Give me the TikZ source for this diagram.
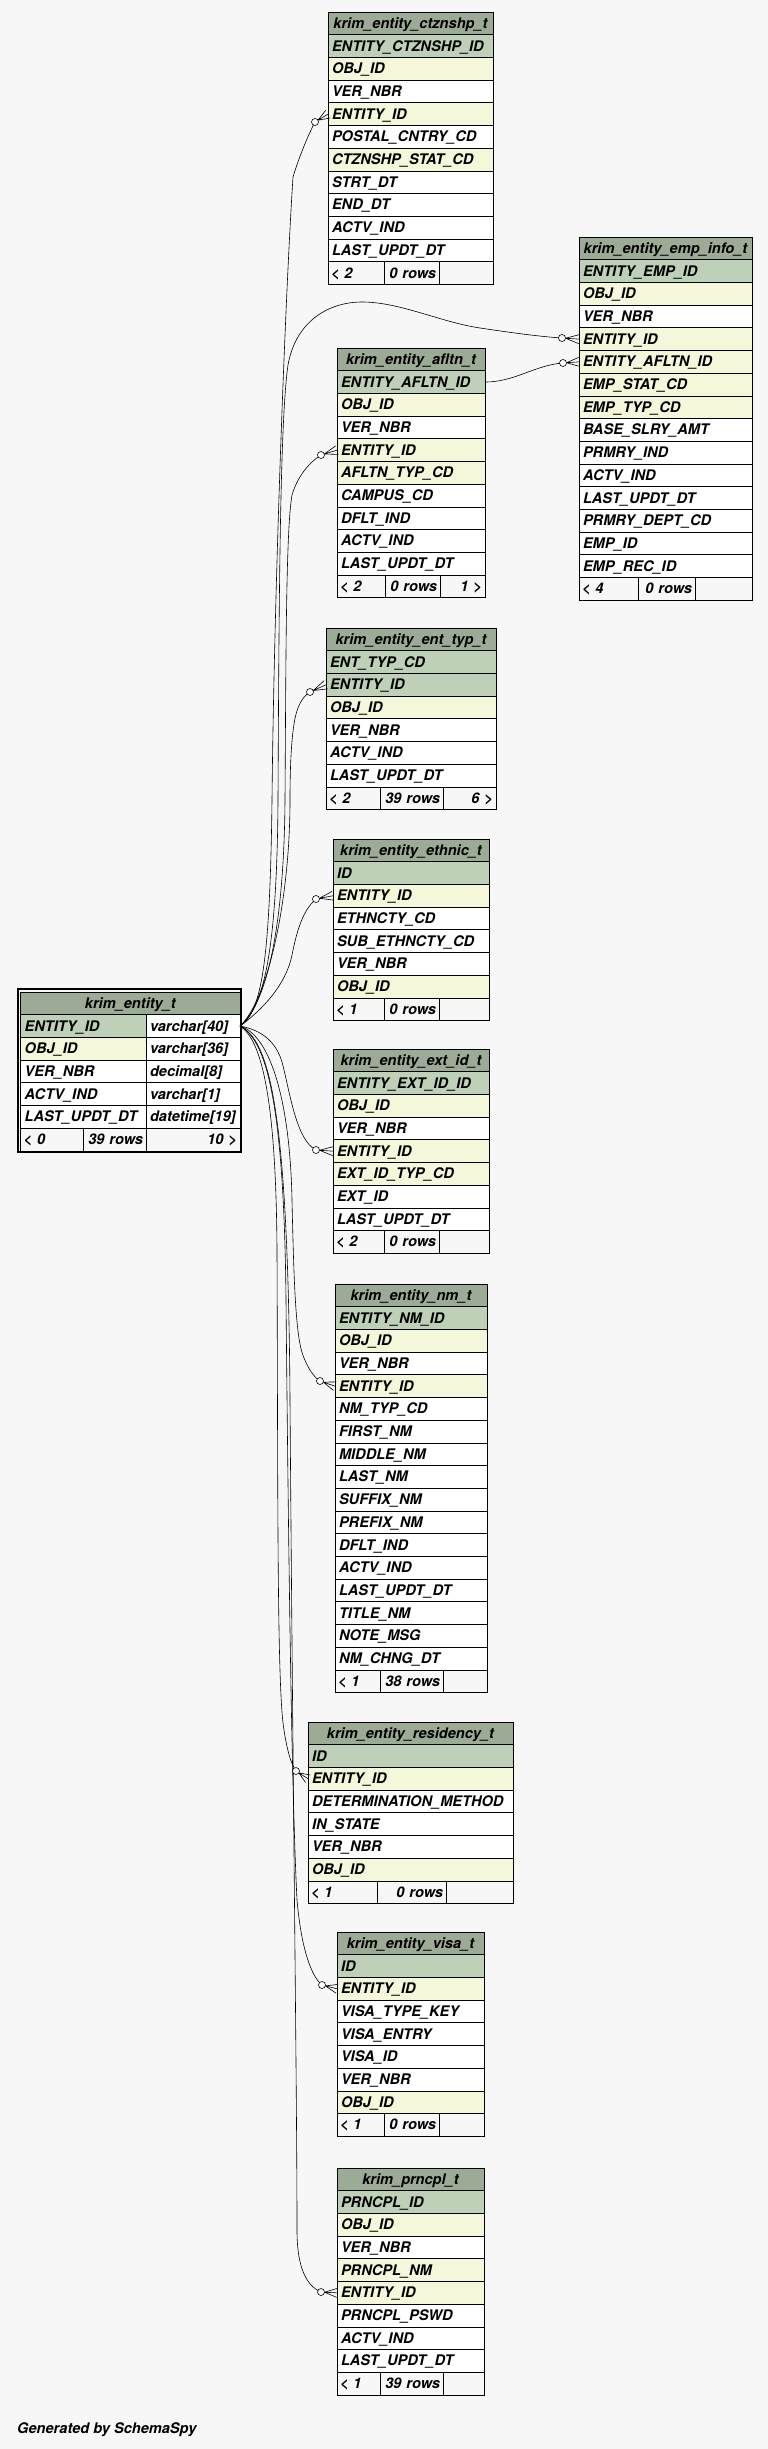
\documentclass[tikz,border=0pt]{standalone}
\usepackage{fontspec}
\setmainfont{TeX Gyre Heros}
\usetikzlibrary{calc}

\definecolor{bgc}{HTML}{F7F7F7}
\definecolor{headc}{HTML}{9BAB96}
\definecolor{pkc}{HTML}{BED1B8}
\definecolor{fkc}{HTML}{F4F7DA}

\def\rowh{22.7}

\tikzset{
  cell/.style={draw=black, line width=0.8pt, anchor=north west, outer sep=0pt,
    inner xsep=4pt, inner ysep=0pt, minimum height=\rowh pt,
    text height=12pt, text depth=2pt, align=left,
    font=\fontsize{14.6pt}{16pt}\selectfont\bfseries\itshape},
  headrow/.style={cell, fill=headc, align=center},
  colrow/.style={cell},
  footcell/.style={cell, fill=bgc, inner xsep=3pt},
  relline/.style={black, line width=0.6pt},
  crowdot/.style={circle, draw=black, fill=white, line width=0.6pt, inner sep=0pt, minimum size=7pt}
}

% table: name, x, y, width, title, rows
\newcommand{\dbtable}[6]{%
  \pgfmathsetmacro\tblw{#4-8}%
  \node[headrow, minimum width=#4pt, text width=\tblw pt] (#1-0) at (#2,#3) {#5};
  \foreach \colr/\txt [count=\i] in {#6}
    \node[colrow, fill=\colr, minimum width=#4pt, text width=\tblw pt] (#1-\i) at (#2,{#3+\i*\rowh}) {\txt};
}

% footer: name, last row, x0, x1, x2, x3, left, mid, right
\newcommand{\dbfoot}[9]{%
  \pgfmathsetmacro\fwa{#4-#3}\pgfmathsetmacro\fwb{#5-#4}\pgfmathsetmacro\fwc{#6-#5}%
  \pgfmathsetmacro\fta{\fwa-6}\pgfmathsetmacro\ftb{\fwb-6}\pgfmathsetmacro\ftc{\fwc-6}%
  \node[footcell, minimum width=\fwa pt, text width=\fta pt] (#1-fl) at (#3,0 |- #1-#2.south) {#7};
  \node[footcell, minimum width=\fwb pt, text width=\ftb pt, align=right] (#1-fm) at (#4,0 |- #1-#2.south) {#8};
  \node[footcell, minimum width=\fwc pt, text width=\ftc pt, align=right] (#1-fr) at (#5,0 |- #1-#2.south) {#9};
}

% circle + crow's foot at a child row
\newcommand{\crowfoot}[2]{%
  \draw[relline] ($(#1)!3.5pt!(#2.west)$) coordinate (#1-ap) -- (#2.west)
    (#1-ap) -- ($(#2.west)!4.5pt!90:(#1-ap)$)
    (#1-ap) -- ($(#2.west)!4.5pt!-90:(#1-ap)$);
  \node[crowdot] (#1-dot) at (#1) {};
}

\begin{document}
\begin{tikzpicture}[x=1pt, y=-1pt]
\fill[bgc] (0,0) rectangle (768,2449);
\useasboundingbox (0,0) rectangle (768,2449);

% main table
\node[headrow, minimum width=219.3pt, text width=211.3pt] (entity-0) at (20.7,992) {krim\_entity\_t};
\foreach \colr/\txt/\typ [count=\i] in {pkc/ENTITY\_ID/varchar[40], fkc/OBJ\_ID/varchar[36],
    white/VER\_NBR/decimal[8], white/ACTV\_IND/varchar[1], white/LAST\_UPDT\_DT/datetime[19]} {
  \node[colrow, fill=\colr, minimum width=125.3pt, text width=117.3pt] (entity-\i) at (20.7,{992+\i*\rowh}) {\txt};
  \node[colrow, fill=white, minimum width=94pt, text width=86pt] (entity-t\i) at (146,{992+\i*\rowh}) {\typ};
}
\dbfoot{entity}{5}{20.7}{83}{146}{240}{< 0}{39 rows}{10 >}
\draw[line width=2pt] (18.3,989.3) rectangle (241.3,1152.3);

\dbtable{ctz}{328}{12}{165}{krim\_entity\_ctznshp\_t}{pkc/ENTITY\_CTZNSHP\_ID, fkc/OBJ\_ID, white/VER\_NBR,
  fkc/ENTITY\_ID, white/POSTAL\_CNTRY\_CD, fkc/CTZNSHP\_STAT\_CD, white/STRT\_DT, white/END\_DT,
  white/ACTV\_IND, white/LAST\_UPDT\_DT}
\dbfoot{ctz}{10}{328}{384}{439}{493}{< 2}{0 rows}{}

\dbtable{emp}{579}{237}{173}{krim\_entity\_emp\_info\_t}{pkc/ENTITY\_EMP\_ID, fkc/OBJ\_ID, white/VER\_NBR,
  fkc/ENTITY\_ID, fkc/ENTITY\_AFLTN\_ID, fkc/EMP\_STAT\_CD, fkc/EMP\_TYP\_CD, white/BASE\_SLRY\_AMT,
  white/PRMRY\_IND, white/ACTV\_IND, white/LAST\_UPDT\_DT, white/PRMRY\_DEPT\_CD, white/EMP\_ID,
  white/EMP\_REC\_ID}
\dbfoot{emp}{14}{579}{638}{695}{752}{< 4}{0 rows}{}

\dbtable{afl}{337}{348}{148}{krim\_entity\_afltn\_t}{pkc/ENTITY\_AFLTN\_ID, fkc/OBJ\_ID, white/VER\_NBR,
  fkc/ENTITY\_ID, fkc/AFLTN\_TYP\_CD, white/CAMPUS\_CD, white/DFLT\_IND, white/ACTV\_IND, white/LAST\_UPDT\_DT}
\dbfoot{afl}{9}{337}{385}{440}{485}{< 2}{0 rows}{1 >}

\dbtable{etyp}{326}{628}{170}{krim\_entity\_ent\_typ\_t}{pkc/ENT\_TYP\_CD, pkc/ENTITY\_ID, fkc/OBJ\_ID,
  white/VER\_NBR, white/ACTV\_IND, white/LAST\_UPDT\_DT}
\dbfoot{etyp}{6}{326}{380}{443}{496}{< 2}{39 rows}{6 >}

\dbtable{eth}{333}{839}{156}{krim\_entity\_ethnic\_t}{pkc/ID, fkc/ENTITY\_ID, white/ETHNCTY\_CD,
  white/SUB\_ETHNCTY\_CD, white/VER\_NBR, fkc/OBJ\_ID}
\dbfoot{eth}{6}{333}{384}{439}{489}{< 1}{0 rows}{}

\dbtable{ext}{333}{1049}{156}{krim\_entity\_ext\_id\_t}{pkc/ENTITY\_EXT\_ID\_ID, fkc/OBJ\_ID, white/VER\_NBR,
  fkc/ENTITY\_ID, fkc/EXT\_ID\_TYP\_CD, white/EXT\_ID, white/LAST\_UPDT\_DT}
\dbfoot{ext}{7}{333}{384}{439}{489}{< 2}{0 rows}{}

\dbtable{nm}{335}{1284}{152}{krim\_entity\_nm\_t}{pkc/ENTITY\_NM\_ID, fkc/OBJ\_ID, white/VER\_NBR,
  fkc/ENTITY\_ID, white/NM\_TYP\_CD, white/FIRST\_NM, white/MIDDLE\_NM, white/LAST\_NM, white/SUFFIX\_NM,
  white/PREFIX\_NM, white/DFLT\_IND, white/ACTV\_IND, white/LAST\_UPDT\_DT, white/TITLE\_NM,
  white/NOTE\_MSG, white/NM\_CHNG\_DT}
\dbfoot{nm}{16}{335}{380}{443}{487}{< 1}{38 rows}{}

\dbtable{res}{308}{1722}{205}{krim\_entity\_residency\_t}{pkc/ID, fkc/ENTITY\_ID, white/DETERMINATION\_METHOD,
  white/IN\_STATE, white/VER\_NBR, fkc/OBJ\_ID}
\dbfoot{res}{6}{308}{377}{446}{513}{< 1}{0 rows}{}

\dbtable{visa}{337}{1932}{147}{krim\_entity\_visa\_t}{pkc/ID, fkc/ENTITY\_ID, white/VISA\_TYPE\_KEY,
  white/VISA\_ENTRY, white/VISA\_ID, white/VER\_NBR, fkc/OBJ\_ID}
\dbfoot{visa}{7}{337}{384}{439}{484}{< 1}{0 rows}{}

\dbtable{prn}{337}{2168}{147}{krim\_prncpl\_t}{pkc/PRNCPL\_ID, fkc/OBJ\_ID, white/VER\_NBR, fkc/PRNCPL\_NM,
  fkc/ENTITY\_ID, white/PRNCPL\_PSWD, white/ACTV\_IND, white/LAST\_UPDT\_DT}
\dbfoot{prn}{8}{337}{380}{443}{484}{< 1}{39 rows}{}

% circle spots
\coordinate (ctz-o) at (315,122);
\coordinate (emp-o) at (562,338);
\coordinate (emp-o2) at (563,363);
\coordinate (afl-o) at (321,455);
\coordinate (etyp-o) at (310,692);
\coordinate (eth-o) at (316,899);
\coordinate (ext-o) at (316,1150);
\coordinate (nm-o) at (320,1381);
\coordinate (res-o) at (296,1771);
\coordinate (visa-o) at (322,1985);
\coordinate (prn-o) at (321,2292);

% relations
\draw[relline] (entity-t1.east) .. controls (262,1012) and (270,960) .. (272,800)
  .. controls (274,600) and (285,300) .. (293,177) .. controls (298,160) and (308,135) .. (ctz-o);
\draw[relline] (entity-t1.east) .. controls (264,1008) and (277,950) .. (278,800)
  .. controls (279,600) and (280,420) .. (288,365) .. controls (296,320) and (330,302) .. (362,302)
  .. controls (400,302) and (440,322) .. (480,328) .. controls (520,334) and (545,337) .. (emp-o);
\draw[relline] (entity-t1.east) .. controls (266,1005) and (284,930) .. (285,800)
  .. controls (286,650) and (286,530) .. (292,495) .. controls (298,475) and (310,462) .. (afl-o);
\draw[relline] (afl-1.east) .. controls (515,382) and (535,365) .. (emp-o2);
\draw[relline] (entity-t1.east) .. controls (268,1000) and (290,900) .. (290,800)
  .. controls (290,750) and (293,720) .. (298,708) .. controls (301,700) and (305,695) .. (etyp-o);
\draw[relline] (entity-t1.east) .. controls (262,1010) and (286,985) .. (292,955)
  .. controls (297,930) and (303,910) .. (eth-o);
\draw[relline] (entity-t1.east) .. controls (262,1030) and (276,1042) .. (282,1062)
  .. controls (290,1092) and (296,1140) .. (ext-o);
\draw[relline] (entity-t1.east) .. controls (270,1035) and (290,1100) .. (292,1200)
  .. controls (294,1290) and (296,1340) .. (304,1358) .. controls (309,1370) and (314,1377) .. (nm-o);
\draw[relline] (entity-t1.east) .. controls (262,1040) and (276,1100) .. (277,1250)
  .. controls (278,1500) and (277,1690) .. (284,1730) .. controls (287,1750) and (291,1764) .. (res-o);
\draw[relline] (entity-t1.east) .. controls (266,1040) and (284,1100) .. (286,1300)
  .. controls (289,1600) and (292,1800) .. (297,1900) .. controls (301,1945) and (310,1975) .. (visa-o);
\draw[relline] (entity-t1.east) .. controls (268,1040) and (288,1100) .. (290,1400)
  .. controls (293,1800) and (297,2100) .. (297,2230) .. controls (297,2265) and (305,2285) .. (prn-o);

\crowfoot{ctz-o}{ctz-4}
\crowfoot{emp-o}{emp-4}
\crowfoot{emp-o2}{emp-5}
\crowfoot{afl-o}{afl-4}
\crowfoot{etyp-o}{etyp-2}
\crowfoot{eth-o}{eth-2}
\crowfoot{ext-o}{ext-4}
\crowfoot{nm-o}{nm-4}
\crowfoot{res-o}{res-2}
\crowfoot{visa-o}{visa-2}
\crowfoot{prn-o}{prn-5}

\node[anchor=west, inner sep=0pt, font=\fontsize{14.6pt}{16pt}\selectfont\bfseries\itshape] (credit) at (17,2430) {Generated by SchemaSpy};
\end{tikzpicture}
\end{document}
